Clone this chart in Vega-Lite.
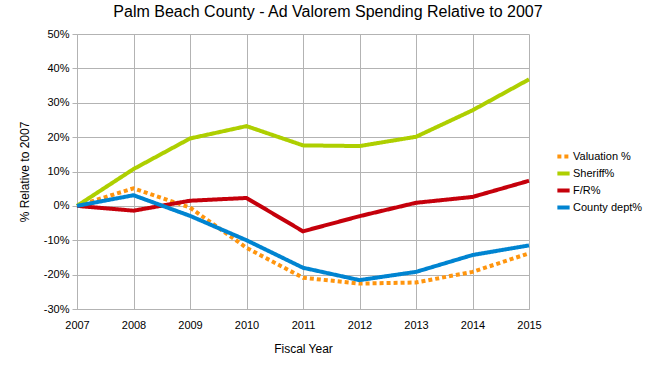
{
  "$schema": "https://vega.github.io/schema/vega-lite/v6.json",
  "width": 452,
  "height": 275,
  "autosize": {"type": "none"},
  "padding": {"left": 77, "top": 34, "right": 121, "bottom": 56},
  "background": "white",
  "title": {
    "text": "Palm Beach County - Ad Valorem Spending Relative to 2007",
    "font": "Liberation Sans",
    "fontSize": 16,
    "fontWeight": "normal",
    "color": "#000000",
    "anchor": "middle",
    "dx": 25,
    "offset": 8
  },
  "config": {
    "view": {"stroke": null},
    "font": "Liberation Sans"
  },
  "data": {
    "values": [
      {"year": 2007, "series": "Valuation %", "value": 0},
      {"year": 2008, "series": "Valuation %", "value": 5.1},
      {"year": 2009, "series": "Valuation %", "value": -0.5},
      {"year": 2010, "series": "Valuation %", "value": -12.2},
      {"year": 2011, "series": "Valuation %", "value": -20.9},
      {"year": 2012, "series": "Valuation %", "value": -22.6},
      {"year": 2013, "series": "Valuation %", "value": -22.3},
      {"year": 2014, "series": "Valuation %", "value": -19.2},
      {"year": 2015, "series": "Valuation %", "value": -13.8},
      {"year": 2007, "series": "Sheriff%", "value": 0},
      {"year": 2008, "series": "Sheriff%", "value": 10.7},
      {"year": 2009, "series": "Sheriff%", "value": 19.6},
      {"year": 2010, "series": "Sheriff%", "value": 23.2},
      {"year": 2011, "series": "Sheriff%", "value": 17.6},
      {"year": 2012, "series": "Sheriff%", "value": 17.4},
      {"year": 2013, "series": "Sheriff%", "value": 20.1},
      {"year": 2014, "series": "Sheriff%", "value": 27.8},
      {"year": 2015, "series": "Sheriff%", "value": 36.8},
      {"year": 2007, "series": "F/R%", "value": 0},
      {"year": 2008, "series": "F/R%", "value": -1.4},
      {"year": 2009, "series": "F/R%", "value": 1.5},
      {"year": 2010, "series": "F/R%", "value": 2.3},
      {"year": 2011, "series": "F/R%", "value": -7.4},
      {"year": 2012, "series": "F/R%", "value": -3.0},
      {"year": 2013, "series": "F/R%", "value": 0.9},
      {"year": 2014, "series": "F/R%", "value": 2.6},
      {"year": 2015, "series": "F/R%", "value": 7.3},
      {"year": 2007, "series": "County dept%", "value": 0},
      {"year": 2008, "series": "County dept%", "value": 3.1},
      {"year": 2009, "series": "County dept%", "value": -2.9},
      {"year": 2010, "series": "County dept%", "value": -10.0},
      {"year": 2011, "series": "County dept%", "value": -18.0},
      {"year": 2012, "series": "County dept%", "value": -21.6},
      {"year": 2013, "series": "County dept%", "value": -19.2},
      {"year": 2014, "series": "County dept%", "value": -14.3},
      {"year": 2015, "series": "County dept%", "value": -11.5}
    ]
  },
  "mark": {"type": "line", "strokeWidth": 4, "strokeJoin": "miter"},
  "encoding": {
    "x": {
      "field": "year",
      "type": "quantitative",
      "scale": {"domain": [2007, 2015], "nice": false, "zero": false},
      "axis": {
        "title": "Fiscal Year",
        "values": [2007, 2008, 2009, 2010, 2011, 2012, 2013, 2014, 2015],
        "format": "d",
        "labelFlush": false,
        "labelFontSize": 11,
        "labelColor": "#000000",
        "labelPadding": 10,
        "titleFontSize": 12,
        "titleFontWeight": "normal",
        "titleColor": "#000000",
        "titlePadding": 13,
        "ticks": false,
        "domainColor": "#b3b3b3",
        "gridColor": "#b3b3b3",
        "grid": true
      }
    },
    "y": {
      "field": "value",
      "type": "quantitative",
      "scale": {"domain": [-30, 50], "nice": false},
      "axis": {
        "title": "% Relative to 2007",
        "values": [-30, -20, -10, 0, 10, 20, 30, 40, 50],
        "labelExpr": "datum.value + '%'",
        "labelFontSize": 11,
        "labelColor": "#000000",
        "labelPadding": 3,
        "tickSize": 5,
        "tickColor": "#b3b3b3",
        "titleFontSize": 12,
        "titleFontWeight": "normal",
        "titleColor": "#000000",
        "titlePadding": 12,
        "domainColor": "#b3b3b3",
        "gridColor": "#b3b3b3",
        "grid": true
      }
    },
    "color": {
      "field": "series",
      "type": "nominal",
      "sort": ["Valuation %", "Sheriff%", "F/R%", "County dept%"],
      "scale": {
        "domain": ["Valuation %", "Sheriff%", "F/R%", "County dept%"],
        "range": ["#ff950e", "#aecf00", "#c5000b", "#0084d1"]
      },
      "legend": {
        "title": null,
        "orient": "none",
        "legendX": 478,
        "legendY": 114,
        "symbolType": "stroke",
        "symbolStrokeWidth": 4,
        "symbolSize": 150,
        "labelFontSize": 11,
        "labelColor": "#000000",
        "rowPadding": -1,
        "labelOffset": 1
      }
    },
    "strokeDash": {
      "field": "series",
      "type": "nominal",
      "sort": ["Valuation %", "Sheriff%", "F/R%", "County dept%"],
      "scale": {
        "domain": ["Valuation %", "Sheriff%", "F/R%", "County dept%"],
        "range": [[4, 3], [1, 0], [1, 0], [1, 0]]
      },
      "legend": null
    },
    "order": {"field": "year"}
  }
}
